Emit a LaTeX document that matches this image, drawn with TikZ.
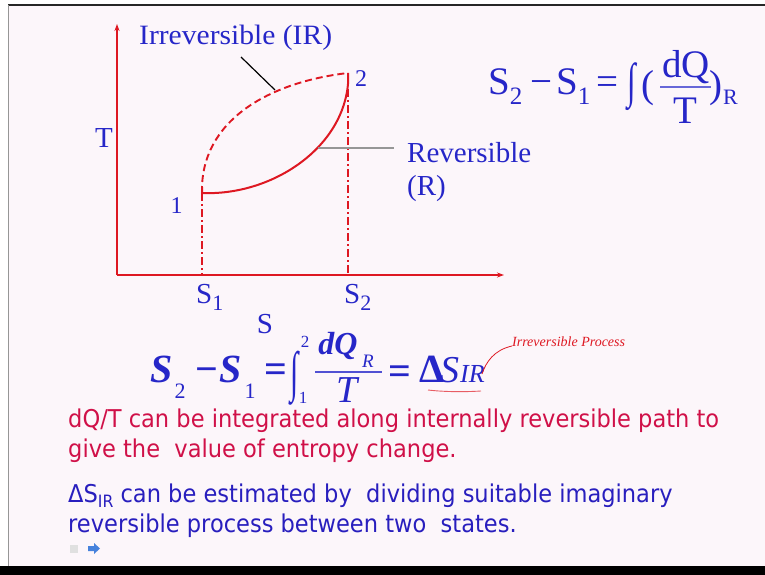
\documentclass[tikz,border=0pt]{standalone}
\usepackage{fontspec}
\setmainfont{Liberation Serif}
\newfontfamily\bodyfont[FakeStretch=0.92]{DejaVu Sans}
\usetikzlibrary{arrows.meta}
\definecolor{bgpink}{RGB}{252,246,250}
\definecolor{txtblue}{RGB}{38,38,200}
\definecolor{bodyblue}{RGB}{40,30,190}
\definecolor{axred}{RGB}{222,24,34}
\definecolor{txtred}{RGB}{208,16,72}
\definecolor{leadgray}{RGB}{150,150,150}
\definecolor{iconblue}{RGB}{70,130,220}
\newcommand\fs[1]{\fontsize{#1}{#1}\selectfont}
\newcommand\lowsub[3]{\raisebox{-#1pt}{\fs{#2}#3}}
\begin{document}
\begin{tikzpicture}[x=1pt,y=-1pt,
  lbl/.style={text=txtblue, inner sep=0pt, anchor=base west, font=\fs{29}},
  axis/.style={axred, line width=1.6pt, -{Stealth[length=7pt,width=5pt]}},
  dashdot/.style={axred, line width=1.8pt, dash pattern=on 8pt off 3pt on 2pt off 3pt},
  revpath/.style={axred, line width=2pt},
  irrpath/.style={axred, line width=1.9pt, dash pattern=on 7pt off 4pt},
  eqr/.style={text=txtblue, inner sep=0pt, anchor=base, font=\fs{39}},
  eqm/.style={text=txtblue, inner sep=0pt, anchor=base, font=\bfseries\itshape\fs{40}},
  body/.style={anchor=base west, inner sep=0pt, font=\bodyfont\fs{24.5}}]
\useasboundingbox (0,0) rectangle (765,575);
\fill[white] (0,0) rectangle (765,575);
\fill[bgpink] (8,6) rectangle (765,566);
\draw[black!85, line width=2pt] (8,5) -- (765,5);
\draw[leadgray, line width=0.8pt] (8,5) -- (8,566);
\fill[black] (0,566) rectangle (765,575);

% axes
\coordinate (O) at (117,275);
\coordinate (Ytop) at (117,24);
\coordinate (Xend) at (504,275);
\draw[axis] (O) -- (Ytop);
\draw[axis] (O) -- (Xend);

% states
\coordinate (P1) at (202,193);
\coordinate (P2) at (348,73);
\coordinate (B1) at (202,275);
\coordinate (B2) at (348,275);
\draw[dashdot] (P1) -- (B1);
\draw[dashdot] (P2) -- (B2);

% reversible path
\draw[revpath] (202,187) -- (P1) .. controls (270,196) and (342,150) .. (348,84) -- (P2);
% irreversible path
\draw[irrpath] (P1) .. controls (200,120) and (270,82) .. (P2);

% labels
\node[lbl, anchor=base, font=\fs{24}] (n1) at (176.5,213) {1};
\node[lbl, font=\fs{24}] (n2) at (355,87) {2};
\node[lbl, anchor=base] (T) at (104,147) {T};
\node[lbl] (S1) at (196,303) {S\lowsub{7}{22}{1}};
\node[lbl] (S2) at (344,303) {S\lowsub{7}{22}{2}};
\node[lbl, anchor=base] (S) at (265,333) {S};

\node[lbl, font=\fs{28}] (irr) at (139,45) {\scalebox{1.056}[1]{Irreversible (IR)}};
\coordinate (irrA) at (241,57);
\coordinate (irrB) at (275,90);
\draw[black, line width=1.2pt] (irrA) -- (irrB);

\node[lbl] (rev) at (407,162) {Reversible};
\node[lbl] (revR) at (407,195) {(R)};
\coordinate (revA) at (318,148);
\coordinate (revB) at (394,148);
\draw[leadgray, line width=1.2pt] (revA) -- (revB);

% right formula: S2 - S1 = int (dQ/T)_R
\node[eqr, anchor=base west] (r1) at (488,95) {S\lowsub{10}{25}{2}};
\node[eqr] (r2) at (541,95) {−};
\node[eqr, anchor=base west] (r3) at (556,95) {S\lowsub{10}{25}{1}};
\node[eqr] (r4) at (607,95) {=};
\node[eqr] (r5) at (632,98) {\scalebox{0.8}[1.25]{∫}};
\node[eqr] (r6) at (648,98) {(};
\node[eqr] (r7) at (686,78) {dQ};
\coordinate (rbA) at (660,87);
\coordinate (rbB) at (711,87);
\draw[txtblue!70, line width=1.6pt] (rbA) -- (rbB);
\node[eqr] (r8) at (685,124) {T};
\node[eqr] (r9) at (716,98) {)};
\node[eqr, anchor=base west, font=\fs{22}] (r10) at (723,105) {R};

% middle formula
\node[eqm, anchor=base west] (m1) at (150,382) {S};
\node[eqr, font=\fs{22}] (m1s) at (180,398) {2};
\node[eqm, font=\bfseries\fs{40}] (m2) at (207,382) {−};
\node[eqm, anchor=base west] (m3) at (219,382) {S};
\node[eqr, font=\fs{22}] (m3s) at (250,398) {1};
\node[eqm, font=\bfseries\fs{40}] (m4) at (276,382) {=};
\node[eqr, font=\fs{40}] (m5) at (295,390) {\scalebox{0.75}[1.38]{∫}};
\node[eqr, font=\fs{17}] (m5a) at (305,347) {2};
\node[eqr, font=\fs{17}] (m5b) at (303,403) {1};
\node[eqm, font=\bfseries\itshape\fs{32}] (m6) at (338,354) {dQ};
\node[eqm, font=\itshape\fs{19}] (m6s) at (368,367) {R};
\coordinate (mbA) at (315,372);
\coordinate (mbB) at (382,372);
\draw[txtblue!80, line width=1.5pt] (mbA) -- (mbB);
\node[eqm, font=\itshape\fs{38}] (m7) at (347,402) {T};
\node[eqm, font=\bfseries\fs{40}] (m8) at (400,384) {=};
\node[eqm, font=\bfseries\fs{40}] (m9) at (432,382) {Δ};
\node[eqm, font=\itshape\fs{38}, anchor=base west] (m10) at (440,382) {S};
\node[eqm, font=\itshape\fs{26}, anchor=base west] (m11) at (460,382) {IR};

% annotation
\coordinate (ulA) at (428,390);
\coordinate (ulB) at (481,391);
\draw[axred!70, line width=0.9pt] (ulA) .. controls (445,392) and (465,392) .. (ulB);
\node[text=axred, inner sep=0pt, anchor=base west, font=\itshape\fs{14}] (hw) at (512,346) {Irreversible Process};
\coordinate (hwA) at (482,374);
\draw[axred, line width=0.8pt] (hwA) .. controls (486,362) and (494,350) .. (hw.base west);

% body text
\node[body, text=txtred] (t1a) at (68,427) {dQ/T can be integrated along internally reversible path to};
\node[body, text=txtred] (t1b) at (68,457) {give the\ \ value of entropy change.};
\node[body, text=bodyblue] (t2a) at (68,502) {ΔS\lowsub{5}{17}{IR} can be estimated by\ \ dividing suitable imaginary};
\node[body, text=bodyblue] (t2b) at (68,532) {reversible process between two\ \ states.};

% icons
\fill[black!12] (70,545) rectangle (78,553);
\fill[iconblue] (88,546) -- (94,546) -- (94,543) -- (100,548.5) -- (94,554) -- (94,551) -- (88,551) -- cycle;
\end{tikzpicture}
\end{document}
